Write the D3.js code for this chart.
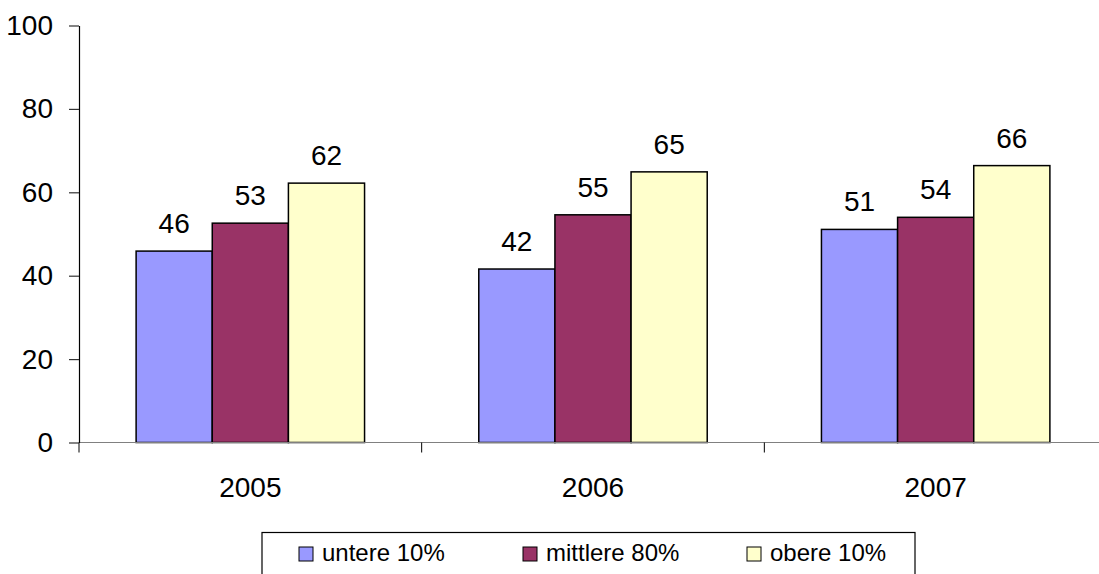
<!DOCTYPE html>
<html>
<head>
<meta charset="utf-8">
<script src="https://cdn.jsdelivr.net/npm/d3@7"></script>
<style>
  body { margin: 0; background: #fff; }
  svg { display: block; font-family: "Liberation Sans", Arial, sans-serif; }
</style>
</head>
<body>
<svg id="chart" width="1099" height="574"></svg>
<script>
// data
const years = ["2005", "2006", "2007"];
const seriesNames = ["untere 10%", "mittlere 80%", "obere 10%"];
const seriesColors = ["#9999FF", "#993366", "#FFFFCC"];
const untere = [45.9, 41.6, 51.1];
const mittlere = [52.6, 54.6, 54.0];
const obere = [62.2, 64.9, 66.4];
const yTicks = [0, 20, 40, 60, 80, 100];

const seriesValues = [untere, mittlere, obere];

const svg = d3.select("#chart");

// plot area
const plotLeft = 79, plotRight = 1107, plotTop = 25.5, plotBottom = 442.5;

const x = d3.scaleBand().domain(years).range([plotLeft, plotRight]).padding(0);
// gap width 150% -> group occupies middle 2/3 of each band
const bw = x.bandwidth();
const x1 = d3.scaleBand().domain(seriesNames).range([bw / 6, bw * 5 / 6]).padding(0);
const y = d3.scaleLinear().domain([0, 100]).range([plotBottom, plotTop]);

// bars
const barData = [];
years.forEach((yr, i) => {
  seriesNames.forEach((s, j) => {
    barData.push({ year: yr, series: s, value: seriesValues[j][i], color: seriesColors[j] });
  });
});

svg.append("g")
  .selectAll("rect")
  .data(barData)
  .enter()
  .append("rect")
  .attr("x", d => x(d.year) + x1(d.series))
  .attr("y", d => y(d.value))
  .attr("width", x1.bandwidth())
  .attr("height", d => y(0) - y(d.value))
  .attr("fill", d => d.color)
  .attr("stroke", "#000")
  .attr("stroke-width", 1.5);

// value labels
svg.append("g")
  .selectAll("text")
  .data(barData)
  .enter()
  .append("text")
  .attr("x", d => x(d.year) + x1(d.series) + x1.bandwidth() / 2)
  .attr("y", d => y(d.value) - 18)
  .attr("text-anchor", "middle")
  .attr("font-size", 28)
  .attr("fill", "#000")
  .text(d => Math.round(d.value));

// x axis line + category boundary ticks
const xAxisG = svg.append("g");
xAxisG.append("line")
  .attr("x1", plotLeft).attr("x2", plotRight)
  .attr("y1", y(0)).attr("y2", y(0))
  .attr("stroke", "#808080").attr("stroke-width", 1.2);

const boundaries = years.map(d => x(d)).concat([x(years[years.length - 1]) + bw]);
xAxisG.selectAll(".btick")
  .data(boundaries)
  .enter()
  .append("line")
  .attr("x1", d => d).attr("x2", d => d)
  .attr("y1", y(0)).attr("y2", y(0) + 10)
  .attr("stroke", "#000").attr("stroke-width", 1);

xAxisG.selectAll(".xlab")
  .data(years)
  .enter()
  .append("text")
  .attr("x", d => x(d) + bw / 2)
  .attr("y", 497)
  .attr("text-anchor", "middle")
  .attr("font-size", 28)
  .attr("fill", "#000")
  .text(d => d);

// y axis
const yAxis = svg.append("g")
  .attr("transform", `translate(${plotLeft},0)`)
  .call(d3.axisLeft(y).tickValues(yTicks).tickSize(10).tickSizeOuter(0).tickPadding(16));
yAxis.select(".domain").attr("stroke", "#000").attr("stroke-width", 1.2);
yAxis.selectAll(".tick line").attr("stroke", "#333").attr("stroke-width", 1.2);
yAxis.selectAll(".tick text")
  .attr("font-size", 28)
  .attr("font-family", "\"Liberation Sans\", Arial, sans-serif")
  .attr("fill", "#000");

// legend
const legend = svg.append("g");
legend.append("rect")
  .attr("x", 262).attr("y", 532.5)
  .attr("width", 653).attr("height", 60)
  .attr("fill", "#fff").attr("stroke", "#000").attr("stroke-width", 1.2);

const items = legend.selectAll(".item")
  .data(seriesNames)
  .enter()
  .append("g")
  .attr("transform", (d, i) => `translate(${299 + i * 224},547)`);

items.append("rect")
  .attr("width", 14).attr("height", 14)
  .attr("fill", (d, i) => seriesColors[i])
  .attr("stroke", "#000").attr("stroke-width", 1);

items.append("text")
  .attr("x", 23).attr("y", 14)
  .attr("font-size", 24)
  .attr("fill", "#000")
  .text(d => d);
</script>
</body>
</html>
